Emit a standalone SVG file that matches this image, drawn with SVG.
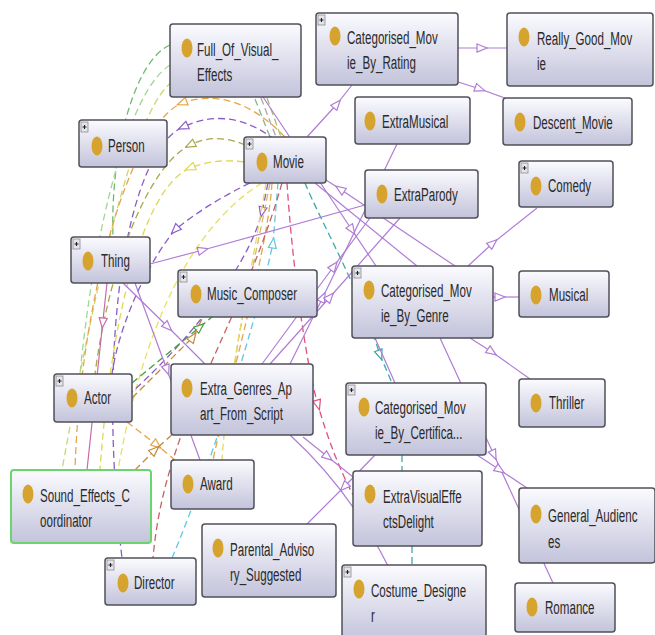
<svg xmlns="http://www.w3.org/2000/svg" width="655" height="635" viewBox="0 0 655 635">
<style>
.box{fill:url(#g);stroke:#505058;stroke-width:1.5}
.green{stroke:#6cd46c;stroke-width:2}
.dot{fill:#d6a42e}
.t{font-family:"Liberation Sans",Arial,sans-serif;font-size:19px;fill:#2a2a2a}
.plus rect{fill:#e4e4ea;stroke:#8a8a92;stroke-width:0.8}
.plus path{stroke:#222;stroke-width:1.1;fill:none}
.s{fill:none;stroke-width:1.2}
.d{fill:none;stroke-width:1.3;stroke-dasharray:7 4}
</style>
<defs>
<linearGradient id="g" x1="0" y1="0" x2="0" y2="1">
<stop offset="0" stop-color="#fbfbff"/>
<stop offset="1" stop-color="#c3c3db"/>
</linearGradient>
<marker id="mP" viewBox="0 0 12 10" refX="6" refY="5" markerWidth="12" markerHeight="10" markerUnits="userSpaceOnUse" orient="auto"><path d="M1,1 L11,5 L1,9 Z" fill="#fff" stroke="#b07cd6" stroke-width="1.2"/></marker>
<marker id="mK" viewBox="0 0 12 10" refX="6" refY="5" markerWidth="12" markerHeight="10" markerUnits="userSpaceOnUse" orient="auto"><path d="M1,1 L11,5 L1,9 Z" fill="#fff" stroke="#c86aa8" stroke-width="1.2"/></marker>
<marker id="mO" viewBox="0 0 12 10" refX="6" refY="5" markerWidth="12" markerHeight="10" markerUnits="userSpaceOnUse" orient="auto"><path d="M1,1 L11,5 L1,9 Z" fill="#fff" stroke="#e5a64a" stroke-width="1.2"/></marker>
<marker id="mV" viewBox="0 0 12 10" refX="6" refY="5" markerWidth="12" markerHeight="10" markerUnits="userSpaceOnUse" orient="auto"><path d="M1,1 L11,5 L1,9 Z" fill="#fff" stroke="#8a5cc8" stroke-width="1.2"/></marker>
<marker id="mL" viewBox="0 0 12 10" refX="6" refY="5" markerWidth="12" markerHeight="10" markerUnits="userSpaceOnUse" orient="auto"><path d="M1,1 L11,5 L1,9 Z" fill="#fff" stroke="#a8a848" stroke-width="1.2"/></marker>
<marker id="mY" viewBox="0 0 12 10" refX="6" refY="5" markerWidth="12" markerHeight="10" markerUnits="userSpaceOnUse" orient="auto"><path d="M1,1 L11,5 L1,9 Z" fill="#fff" stroke="#e0d850" stroke-width="1.2"/></marker>
<marker id="mG" viewBox="0 0 12 10" refX="6" refY="5" markerWidth="12" markerHeight="10" markerUnits="userSpaceOnUse" orient="auto"><path d="M1,1 L11,5 L1,9 Z" fill="#fff" stroke="#40a040" stroke-width="1.2"/></marker>
<marker id="mB" viewBox="0 0 12 10" refX="6" refY="5" markerWidth="12" markerHeight="10" markerUnits="userSpaceOnUse" orient="auto"><path d="M1,1 L11,5 L1,9 Z" fill="#fff" stroke="#c08a40" stroke-width="1.2"/></marker>
<marker id="mT" viewBox="0 0 12 10" refX="6" refY="5" markerWidth="12" markerHeight="10" markerUnits="userSpaceOnUse" orient="auto"><path d="M1,1 L11,5 L1,9 Z" fill="#fff" stroke="#40a8a8" stroke-width="1.2"/></marker>
<marker id="mC" viewBox="0 0 12 10" refX="6" refY="5" markerWidth="12" markerHeight="10" markerUnits="userSpaceOnUse" orient="auto"><path d="M1,1 L11,5 L1,9 Z" fill="#fff" stroke="#60c8e0" stroke-width="1.2"/></marker>
<marker id="mR" viewBox="0 0 12 10" refX="6" refY="5" markerWidth="12" markerHeight="10" markerUnits="userSpaceOnUse" orient="auto"><path d="M1,1 L11,5 L1,9 Z" fill="#fff" stroke="#e05080" stroke-width="1.2"/></marker>
</defs>
<rect width="655" height="635" fill="#fff"/>
<g id="connectors">
<!-- dashed object-property curves -->
<path class="d" stroke="#70b870" d="M170,45 C135,60 110,150 113,237"/>
<path class="d" stroke="#a0d890" d="M170,65 C130,90 95,220 80,374"/>
<path class="d" stroke="#c8d870" d="M172,82 C140,105 105,230 62,470"/>
<path class="d" stroke="#88b888" d="M255,99 L270,137"/>
<path class="d" stroke="#a8a8a8" d="M261,98 L276,137"/>
<path class="d" stroke="#a8c070" d="M267,98 L281,137"/>
<path class="d" stroke="#e5a64a" marker-mid="url(#mO)" d="M285,137 Q235,85 182,103 C130,125 80,300 75,470"/>
<path class="d" stroke="#8a5cc8" marker-mid="url(#mV)" d="M275,140 Q230,105 183,127 C130,150 95,330 122,558"/>
<path class="d" stroke="#a8a848" marker-mid="url(#mL)" d="M255,150 Q220,130 190,145 C150,165 110,260 95,374"/>
<path class="d" stroke="#e0d850" marker-mid="url(#mY)" d="M244,162 Q215,158 190,168 C140,190 110,330 100,470"/>
<path class="d" stroke="#8a5cc8" marker-mid="url(#mV)" d="M250,183 Q205,205 175,230 C150,260 120,320 112,374"/>
<path class="d" stroke="#e8e060" d="M262,183 C210,215 150,290 118,470"/>
<path class="d" stroke="#8a5cc8" marker-mid="url(#mV)" d="M268,183 L262,212 C250,260 200,330 132,392"/>
<path class="d" stroke="#e5a64a" d="M272,183 C268,250 230,380 213,460"/>
<path class="d" stroke="#d8b870" d="M270,183 C255,260 240,320 235,364"/>
<path class="d" stroke="#e8d860" d="M266,183 C250,280 225,400 222,460"/>
<path class="d" stroke="#60c8e0" marker-mid="url(#mC)" d="M172,558 C205,480 255,330 273,243 L278,183"/>
<path class="d" stroke="#c86060" d="M282,183 C240,330 165,420 153,558"/>
<path class="d" stroke="#e05080" marker-mid="url(#mR)" d="M287,183 C292,260 305,360 318,405 C328,440 340,470 353,495"/>
<path class="d" stroke="#40a8a8" marker-mid="url(#mT)" d="M305,183 C320,220 360,290 380,355 L392,383"/>
<path class="d" stroke="#40a8a8" d="M402,455 L402,471 M412,546 L412,565"/>
<path class="d" stroke="#40a040" marker-mid="url(#mG)" d="M132,383 L200,327 L212,317"/>
<path class="d" stroke="#c08a40" marker-mid="url(#mB)" d="M132,398 L193,337 L203,317"/>
<path class="d" stroke="#e5a64a" marker-mid="url(#mO)" d="M127,422 L157,445 L175,460"/>
<path class="d" stroke="#c08a40" marker-mid="url(#mB)" d="M135,470 L155,450 L175,432"/>
<!-- solid subclass lines -->
<path class="s" stroke="#b07cd6" marker-mid="url(#mP)" d="M458,48 L482,48 L507,48"/>
<path class="s" stroke="#b07cd6" marker-mid="url(#mP)" d="M452,80 L480,89 L510,100"/>
<path class="s" stroke="#b07cd6" marker-mid="url(#mP)" d="M307,137 L337,104 L352,85"/>
<path class="s" stroke="#b07cd6" marker-mid="url(#mP)" d="M263,97 L352,230 L376,266"/>
<path class="s" stroke="#b07cd6" d="M315,183 L417,266"/>
<path class="s" stroke="#b07cd6" marker-mid="url(#mP)" d="M455,266 L340,189 L326,180"/>
<path class="s" stroke="#b07cd6" marker-mid="url(#mP)" d="M290,364 L323,297 L397,144"/>
<path class="s" stroke="#b07cd6" marker-mid="url(#mP)" d="M270,364 L330,297 L400,218"/>
<path class="s" stroke="#b07cd6" marker-mid="url(#mP)" d="M262,364 L334,266 L370,218"/>
<path class="s" stroke="#b07cd6" marker-mid="url(#mP)" d="M150,264 L203,250 L365,205"/>
<path class="s" stroke="#b07cd6" marker-mid="url(#mP)" d="M468,266 L493,243 L537,208"/>
<path class="s" stroke="#b07cd6" marker-mid="url(#mP)" d="M493,297 L500,297 L519,297"/>
<path class="s" stroke="#b07cd6" marker-mid="url(#mP)" d="M470,338 L492,352 L530,379"/>
<path class="s" stroke="#b07cd6" d="M375,338 L395,383"/>
<path class="s" stroke="#b07cd6" marker-mid="url(#mP)" d="M440,338 L494,455 L553,583"/>
<path class="s" stroke="#b07cd6" marker-mid="url(#mP)" d="M477,455 L500,470 L527,488"/>
<path class="s" stroke="#b07cd6" marker-mid="url(#mP)" d="M375,455 L344,487 L307,524"/>
<path class="s" stroke="#b07cd6" marker-mid="url(#mP)" d="M303,437 L328,457 L353,477"/>
<path class="s" stroke="#b07cd6" d="M290,435 Q350,490 388,566"/>
<path class="s" stroke="#c86aa8" marker-mid="url(#mK)" d="M107,283 L102.7,323 L87,470"/>
<path class="s" stroke="#b07cd6" marker-mid="url(#mP)" d="M123,283 L168,327 L205,364"/>
<path class="s" stroke="#b07cd6" marker-mid="url(#mP)" d="M135,283 L167,370 L200,460"/>
</g>
<g id="n-full-of-visual-effects">
<rect class="box" x="170" y="24" width="131" height="73" rx="3"/>
<ellipse class="dot" cx="187" cy="48" rx="5.5" ry="9.5"/>
<text class="t" transform="translate(197,56) scale(0.61,1)">Full_Of_Visual_</text>
<text class="t" transform="translate(197,81) scale(0.61,1)">Effects</text>
</g>
<g id="n-rating">
<rect class="box" x="316" y="13" width="142" height="72" rx="3"/>
<g class="plus" transform="translate(318,15)"><rect width="7" height="10"/><path d="M1.5,5 H5.5 M3.5,3 V7"/></g>
<ellipse class="dot" cx="335" cy="36" rx="5.5" ry="9.5"/>
<text class="t" transform="translate(347,44) scale(0.61,1)">Categorised_Mov</text>
<text class="t" transform="translate(347,69) scale(0.61,1)">ie_By_Rating</text>
</g>
<g id="n-really-good-movie">
<rect class="box" x="507" y="13" width="146" height="73" rx="3"/>
<ellipse class="dot" cx="524" cy="37" rx="5.5" ry="9.5"/>
<text class="t" transform="translate(537,45) scale(0.61,1)">Really_Good_Mov</text>
<text class="t" transform="translate(537,70) scale(0.61,1)">ie</text>
</g>
<g id="n-descent-movie">
<rect class="box" x="503" y="98" width="129" height="47" rx="3"/>
<ellipse class="dot" cx="520" cy="122" rx="5.5" ry="9.5"/>
<text class="t" transform="translate(533,129) scale(0.61,1)">Descent_Movie</text>
</g>
<g id="n-extramusical">
<rect class="box" x="355" y="97" width="115" height="47" rx="3"/>
<ellipse class="dot" cx="370" cy="121" rx="5.5" ry="9.5"/>
<text class="t" transform="translate(382,128) scale(0.61,1)">ExtraMusical</text>
</g>
<g id="n-extraparody">
<rect class="box" x="365" y="170" width="113" height="48" rx="3"/>
<ellipse class="dot" cx="382" cy="194" rx="5.5" ry="9.5"/>
<text class="t" transform="translate(394,201) scale(0.61,1)">ExtraParody</text>
</g>
<g id="n-comedy">
<rect class="box" x="519" y="161" width="94" height="46" rx="3"/>
<g class="plus" transform="translate(521,163)"><rect width="7" height="10"/><path d="M1.5,5 H5.5 M3.5,3 V7"/></g>
<ellipse class="dot" cx="536" cy="186" rx="5.5" ry="9.5"/>
<text class="t" transform="translate(548,192) scale(0.61,1)">Comedy</text>
</g>
<g id="n-person">
<rect class="box" x="79" y="120" width="88" height="47" rx="3"/>
<g class="plus" transform="translate(81,122)"><rect width="7" height="10"/><path d="M1.5,5 H5.5 M3.5,3 V7"/></g>
<ellipse class="dot" cx="97" cy="146" rx="5.5" ry="9.5"/>
<text class="t" transform="translate(108,152) scale(0.61,1)">Person</text>
</g>
<g id="n-movie">
<rect class="box" x="244" y="137" width="82" height="46" rx="3"/>
<g class="plus" transform="translate(246,139)"><rect width="7" height="10"/><path d="M1.5,5 H5.5 M3.5,3 V7"/></g>
<ellipse class="dot" cx="262" cy="162" rx="5.5" ry="9.5"/>
<text class="t" transform="translate(273,168) scale(0.61,1)">Movie</text>
</g>
<g id="n-thing">
<rect class="box" x="71" y="237" width="79" height="46" rx="3"/>
<g class="plus" transform="translate(73,239)"><rect width="7" height="10"/><path d="M1.5,5 H5.5 M3.5,3 V7"/></g>
<ellipse class="dot" cx="88" cy="261" rx="5.5" ry="9.5"/>
<text class="t" transform="translate(101,267) scale(0.61,1)">Thing</text>
</g>
<g id="n-music-composer">
<rect class="box" x="178" y="270" width="139" height="47" rx="3"/>
<g class="plus" transform="translate(180,272)"><rect width="7" height="10"/><path d="M1.5,5 H5.5 M3.5,3 V7"/></g>
<ellipse class="dot" cx="196" cy="294" rx="5.5" ry="9.5"/>
<text class="t" transform="translate(207,300) scale(0.61,1)">Music_Composer</text>
</g>
<g id="n-categorised-movie-by-genre">
<rect class="box" x="352" y="266" width="141" height="72" rx="3"/>
<g class="plus" transform="translate(354,268)"><rect width="7" height="10"/><path d="M1.5,5 H5.5 M3.5,3 V7"/></g>
<ellipse class="dot" cx="369" cy="290" rx="5.5" ry="9.5"/>
<text class="t" transform="translate(381,297) scale(0.61,1)">Categorised_Mov</text>
<text class="t" transform="translate(381,322) scale(0.61,1)">ie_By_Genre</text>
</g>
<g id="n-musical">
<rect class="box" x="519" y="271" width="90" height="46" rx="3"/>
<ellipse class="dot" cx="536" cy="295" rx="5.5" ry="9.5"/>
<text class="t" transform="translate(549,301) scale(0.61,1)">Musical</text>
</g>
<g id="n-actor">
<rect class="box" x="54" y="374" width="78" height="48" rx="3"/>
<g class="plus" transform="translate(56,376)"><rect width="7" height="10"/><path d="M1.5,5 H5.5 M3.5,3 V7"/></g>
<ellipse class="dot" cx="72" cy="398" rx="5.5" ry="9.5"/>
<text class="t" transform="translate(84,404) scale(0.61,1)">Actor</text>
</g>
<g id="n-extra-genres">
<rect class="box" x="171" y="364" width="142" height="71" rx="3"/>
<ellipse class="dot" cx="187" cy="388" rx="5.5" ry="9.5"/>
<text class="t" transform="translate(200,395) scale(0.61,1)">Extra_Genres_Ap</text>
<text class="t" transform="translate(200,420) scale(0.61,1)">art_From_Script</text>
</g>
<g id="n-thriller">
<rect class="box" x="519" y="379" width="86" height="48" rx="3"/>
<ellipse class="dot" cx="536" cy="403" rx="5.5" ry="9.5"/>
<text class="t" transform="translate(549,409) scale(0.61,1)">Thriller</text>
</g>
<g id="n-categorised-movie-by-certification">
<rect class="box" x="346" y="383" width="140" height="72" rx="3"/>
<g class="plus" transform="translate(348,385)"><rect width="7" height="10"/><path d="M1.5,5 H5.5 M3.5,3 V7"/></g>
<ellipse class="dot" cx="364" cy="407" rx="5.5" ry="9.5"/>
<text class="t" transform="translate(375,414) scale(0.61,1)">Categorised_Mov</text>
<text class="t" transform="translate(375,439) scale(0.61,1)">ie_By_Certifica...</text>
</g>
<g id="n-sound-effects-coordinator">
<rect class="box green" x="11" y="470" width="140" height="73" rx="3"/>
<ellipse class="dot" cx="28" cy="494" rx="5.5" ry="9.5"/>
<text class="t" transform="translate(40,502) scale(0.61,1)">Sound_Effects_C</text>
<text class="t" transform="translate(40,527) scale(0.61,1)">oordinator</text>
</g>
<g id="n-award">
<rect class="box" x="171" y="460" width="83" height="49" rx="3"/>
<ellipse class="dot" cx="188" cy="484" rx="5.5" ry="9.5"/>
<text class="t" transform="translate(200,490) scale(0.61,1)">Award</text>
</g>
<g id="n-extravisualeffectsdelight">
<rect class="box" x="353" y="471" width="129" height="75" rx="3"/>
<ellipse class="dot" cx="370" cy="494" rx="5.5" ry="9.5"/>
<text class="t" transform="translate(383,503) scale(0.61,1)">ExtraVisualEffe</text>
<text class="t" transform="translate(383,528) scale(0.61,1)">ctsDelight</text>
</g>
<g id="n-general-audiences">
<rect class="box" x="519" y="488" width="136" height="75" rx="3"/>
<ellipse class="dot" cx="536" cy="514" rx="5.5" ry="9.5"/>
<text class="t" transform="translate(548,522) scale(0.61,1)">General_Audienc</text>
<text class="t" transform="translate(548,548) scale(0.61,1)">es</text>
</g>
<g id="n-parental-advisory-suggested">
<rect class="box" x="202" y="524" width="134" height="73" rx="3"/>
<ellipse class="dot" cx="218" cy="548" rx="5.5" ry="9.5"/>
<text class="t" transform="translate(230,556) scale(0.61,1)">Parental_Adviso</text>
<text class="t" transform="translate(230,581) scale(0.61,1)">ry_Suggested</text>
</g>
<g id="n-director">
<rect class="box" x="105" y="558" width="91" height="47" rx="3"/>
<g class="plus" transform="translate(107,560)"><rect width="7" height="10"/><path d="M1.5,5 H5.5 M3.5,3 V7"/></g>
<ellipse class="dot" cx="123" cy="583" rx="5.5" ry="9.5"/>
<text class="t" transform="translate(134,589) scale(0.61,1)">Director</text>
</g>
<g id="n-costume-designer">
<rect class="box" x="342" y="565" width="144" height="76" rx="3"/>
<g class="plus" transform="translate(344,567)"><rect width="7" height="10"/><path d="M1.5,5 H5.5 M3.5,3 V7"/></g>
<ellipse class="dot" cx="359" cy="589" rx="5.5" ry="9.5"/>
<text class="t" transform="translate(371,597) scale(0.61,1)">Costume_Designe</text>
<text class="t" transform="translate(371,622) scale(0.61,1)">r</text>
</g>
<g id="n-romance">
<rect class="box" x="515" y="583" width="100" height="49" rx="3"/>
<ellipse class="dot" cx="532" cy="607" rx="5.5" ry="9.5"/>
<text class="t" transform="translate(545,614) scale(0.61,1)">Romance</text>
</g>
</svg>
